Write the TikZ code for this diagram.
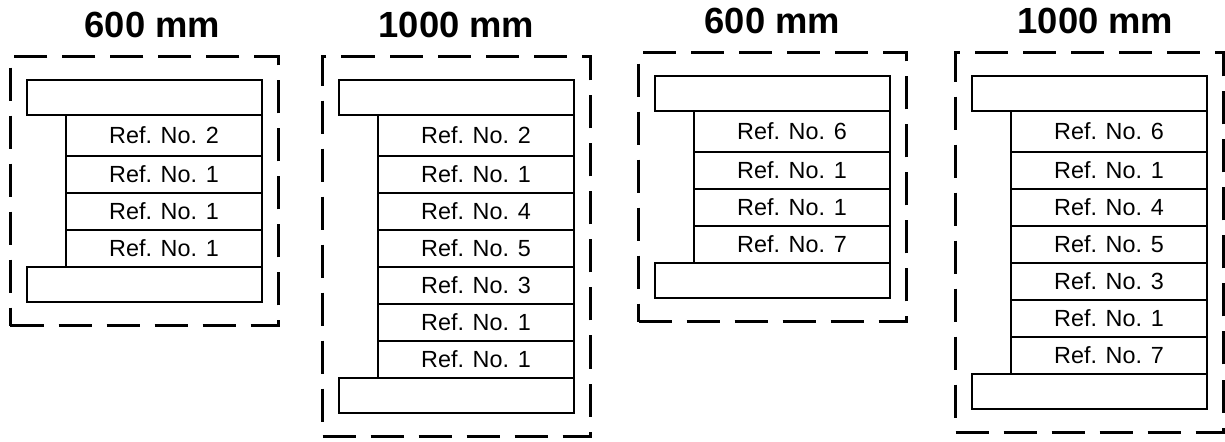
\documentclass[tikz,border=0pt]{standalone}
\usepackage{fontspec}
\setmainfont{Liberation Sans}
\usetikzlibrary{fit,positioning}

\begin{document}
\begin{tikzpicture}[
      plate/.style={draw,line width=1.3pt,minimum width=4.7cm,minimum height=0.7cm,
        inner sep=0pt,outer sep=0pt},
      layer/.style={draw,line width=1.3pt,minimum width=3.92cm,minimum height=0.74cm,
        inner sep=0pt,outer sep=0pt,font=\fontsize{13.3}{16}\selectfont},
      toplayer/.style={layer,minimum height=0.82cm},
      frame/.style={draw,line width=1.7pt,dash pattern=on 0.66cm off 0.3cm,
        inner xsep=0.33cm,inner ysep=0.47cm},
      title/.style={anchor=base,font=\fontsize{20.7}{25}\selectfont\bfseries}
    ]
      \useasboundingbox (0,0) rectangle (24.5,-8.84);

      % panel A, 600 mm
      \node[plate,anchor=north west] (capA) at (0.54,-1.60) {};
      \node[toplayer,below left=0pt and 0pt of capA.south east] (a1) {Ref. No. 2};
      \node[layer,below=0pt of a1] (a2) {Ref. No. 1};
      \node[layer,below=0pt of a2] (a3) {Ref. No. 1};
      \node[layer,below=0pt of a3] (a4) {Ref. No. 1};
      \node[plate,below left=0pt and 0pt of a4.south east] (baseA) {};
      \node[frame,fit=(capA) (baseA)] (frameA) {};
      \node[title] (titleA) at ([xshift=0.16cm,yshift=0.36cm]frameA.north) {600 mm};

      % panel B, 1000 mm
      \node[plate,anchor=north west] (capB) at (6.78,-1.60) {};
      \node[toplayer,below left=0pt and 0pt of capB.south east] (b1) {Ref. No. 2};
      \node[layer,below=0pt of b1] (b2) {Ref. No. 1};
      \node[layer,below=0pt of b2] (b3) {Ref. No. 4};
      \node[layer,below=0pt of b3] (b4) {Ref. No. 5};
      \node[layer,below=0pt of b4] (b5) {Ref. No. 3};
      \node[layer,below=0pt of b5] (b6) {Ref. No. 1};
      \node[layer,below=0pt of b6] (b7) {Ref. No. 1};
      \node[plate,below left=0pt and 0pt of b7.south east] (baseB) {};
      \node[frame,fit=(capB) (baseB)] (frameB) {};
      \node[title] (titleB) at ([yshift=0.36cm]frameB.north) {1000 mm};

      % panel C, 600 mm
      \node[plate,anchor=north west] (capC) at (13.10,-1.52) {};
      \node[toplayer,below left=0pt and 0pt of capC.south east] (c1) {Ref. No. 6};
      \node[layer,below=0pt of c1] (c2) {Ref. No. 1};
      \node[layer,below=0pt of c2] (c3) {Ref. No. 1};
      \node[layer,below=0pt of c3] (c4) {Ref. No. 7};
      \node[plate,below left=0pt and 0pt of c4.south east] (baseC) {};
      \node[frame,fit=(capC) (baseC)] (frameC) {};
      \node[title] (titleC) at ([yshift=0.36cm]frameC.north) {600 mm};

      % panel D, 1000 mm
      \node[plate,anchor=north west] (capD) at (19.44,-1.52) {};
      \node[toplayer,below left=0pt and 0pt of capD.south east] (d1) {Ref. No. 6};
      \node[layer,below=0pt of d1] (d2) {Ref. No. 1};
      \node[layer,below=0pt of d2] (d3) {Ref. No. 4};
      \node[layer,below=0pt of d3] (d4) {Ref. No. 5};
      \node[layer,below=0pt of d4] (d5) {Ref. No. 3};
      \node[layer,below=0pt of d5] (d6) {Ref. No. 1};
      \node[layer,below=0pt of d6] (d7) {Ref. No. 7};
      \node[plate,below left=0pt and 0pt of d7.south east] (baseD) {};
      \node[frame,fit=(capD) (baseD)] (frameD) {};
      \node[title] (titleD) at ([xshift=0.12cm,yshift=0.36cm]frameD.north) {1000 mm};
    \end{tikzpicture}
\end{document}
